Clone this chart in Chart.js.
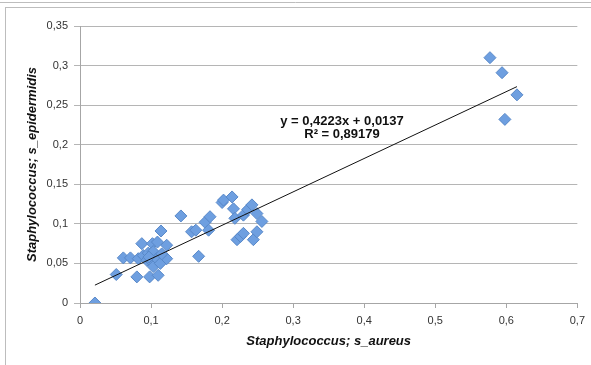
<!DOCTYPE html>
<html>
<head>
<meta charset="utf-8">
<script src="https://cdn.jsdelivr.net/npm/chart.js@4/dist/chart.umd.min.js"></script>
<style>
  html, body { margin: 0; padding: 0; background: #fff; }
  #wrap { width: 591px; height: 365px; position: relative; }
</style>
</head>
<body>
<div id="wrap"><canvas id="chartStaph"></canvas></div>
<script>
// Muestras: abundancia relativa de S. aureus (x) frente a S. epidermidis (y)
const sAureus = [
  0.021, 0.051, 0.061, 0.071, 0.080, 0.082, 0.087, 0.089, 0.094, 0.096,
  0.098, 0.101, 0.102, 0.103, 0.103, 0.108, 0.109, 0.110, 0.113, 0.114,
  0.122, 0.122, 0.097, 0.115, 0.142, 0.157, 0.163, 0.167, 0.176, 0.183,
  0.181, 0.200, 0.202, 0.214, 0.216, 0.218, 0.230, 0.236, 0.242, 0.249,
  0.256, 0.221, 0.226, 0.230, 0.244, 0.249, 0.577, 0.594, 0.615, 0.598
];
const sEpidermidis = [
  0.000, 0.036, 0.057, 0.057, 0.033, 0.056, 0.075, 0.060, 0.054, 0.063,
  0.033, 0.052, 0.075, 0.065, 0.046, 0.056, 0.077, 0.035, 0.050, 0.091,
  0.073, 0.056, 0.058, 0.062, 0.110, 0.090, 0.092, 0.059, 0.102, 0.109,
  0.092, 0.127, 0.130, 0.134, 0.119, 0.107, 0.111, 0.118, 0.124, 0.113,
  0.103, 0.080, 0.084, 0.088, 0.080, 0.090, 0.310, 0.291, 0.263, 0.232
];
// Línea de tendencia lineal: [pendiente, intersección], R²
const trendCoef = [0.4223, 0.0137];
const trendR2 = 0.89179;

const xTicks = [0, 0.1, 0.2, 0.3, 0.4, 0.5, 0.6, 0.7];
const yTicks = [0, 0.05, 0.1, 0.15, 0.2, 0.25, 0.3, 0.35];

const coma = v => String(Number(v.toFixed(5))).replace('.', ',');

const puntos = sAureus.map((x, i) => ({ x: x, y: sEpidermidis[i] }));
const xMin = Math.min(...sAureus), xMax = Math.max(...sAureus);
const tendencia = [xMin, xMax].map(x => ({ x: x, y: trendCoef[0] * x + trendCoef[1] }));

const FONT = '"Liberation Sans", Arial, sans-serif';

// Marco del gráfico y etiqueta de la ecuación
const extras = {
  id: 'extras',
  beforeDraw(chart) {
    const c = chart.ctx;
    c.save();
    c.strokeStyle = '#bdbdbd'; c.lineWidth = 1;
    c.beginPath(); c.moveTo(0, 2.5); c.lineTo(chart.width, 2.5); c.stroke();
    c.strokeRect(5.5, 7.5, chart.width + 10, chart.height + 10);
    c.restore();
  },
  afterDraw(chart) {
    const c = chart.ctx;
    c.save();
    c.fillStyle = '#111';
    c.font = 'bold 13px ' + FONT;
    c.textAlign = 'center'; c.textBaseline = 'middle';
    c.fillText('y = ' + coma(trendCoef[0]) + 'x + ' + coma(trendCoef[1]), 342, 121);
    c.fillText('R² = ' + coma(trendR2), 342, 134);
    c.restore();
  }
};

Chart.defaults.font.family = FONT;
Chart.defaults.font.size = 11;
Chart.defaults.color = '#333';

new Chart(document.getElementById('chartStaph'), {
  type: 'scatter',
  data: {
    datasets: [
      { label: 'muestras', data: puntos, pointStyle: 'rectRot', pointRadius: 6, pointHoverRadius: 6,
        backgroundColor: '#6e9fe0', borderColor: '#5888c8', borderWidth: 1, order: 2 },
      { label: 'tendencia', type: 'line', data: tendencia, borderColor: '#111', borderWidth: 1,
        pointRadius: 0, fill: false, order: 1 }
    ]
  },
  options: {
    responsive: true, maintainAspectRatio: false, animation: false,
    layout: { padding: { top: 26, right: 13, left: 0, bottom: 0 } },
    plugins: { legend: { display: false }, tooltip: { enabled: false } },
    scales: {
      x: {
        type: 'linear', min: 0, max: 0.7,
        afterBuildTicks: s => { s.ticks = xTicks.map(v => ({ value: v })); },
        afterFit: s => { s.height = 62; },
        ticks: { callback: v => coma(v), padding: 6, color: '#333', maxRotation: 0 },
        grid: { drawOnChartArea: false, drawTicks: true, tickLength: 5, color: '#a6a6a6' },
        border: { display: true, color: '#a6a6a6' },
        title: { display: true, text: 'Staphylococcus; s_aureus', color: '#111',
                 font: { size: 13, weight: 'bold', style: 'italic' }, padding: { top: 4, bottom: 16 } }
      },
      y: {
        type: 'linear', min: 0, max: 0.35,
        afterBuildTicks: s => { s.ticks = yTicks.map(v => ({ value: v })); },
        afterFit: s => { s.width = 80; },
        ticks: { callback: v => coma(v), padding: 6, color: '#333' },
        grid: { color: '#b5b5b5', drawTicks: true, tickLength: 6 },
        border: { display: true, color: '#a6a6a6' },
        title: { display: true, text: 'Staphylococcus; s_epidermidis', color: '#111',
                 font: { size: 13, weight: 'bold', style: 'italic' }, padding: { top: 25, bottom: 0 } }
      }
    }
  },
  plugins: [extras]
});
</script>
</body>
</html>
